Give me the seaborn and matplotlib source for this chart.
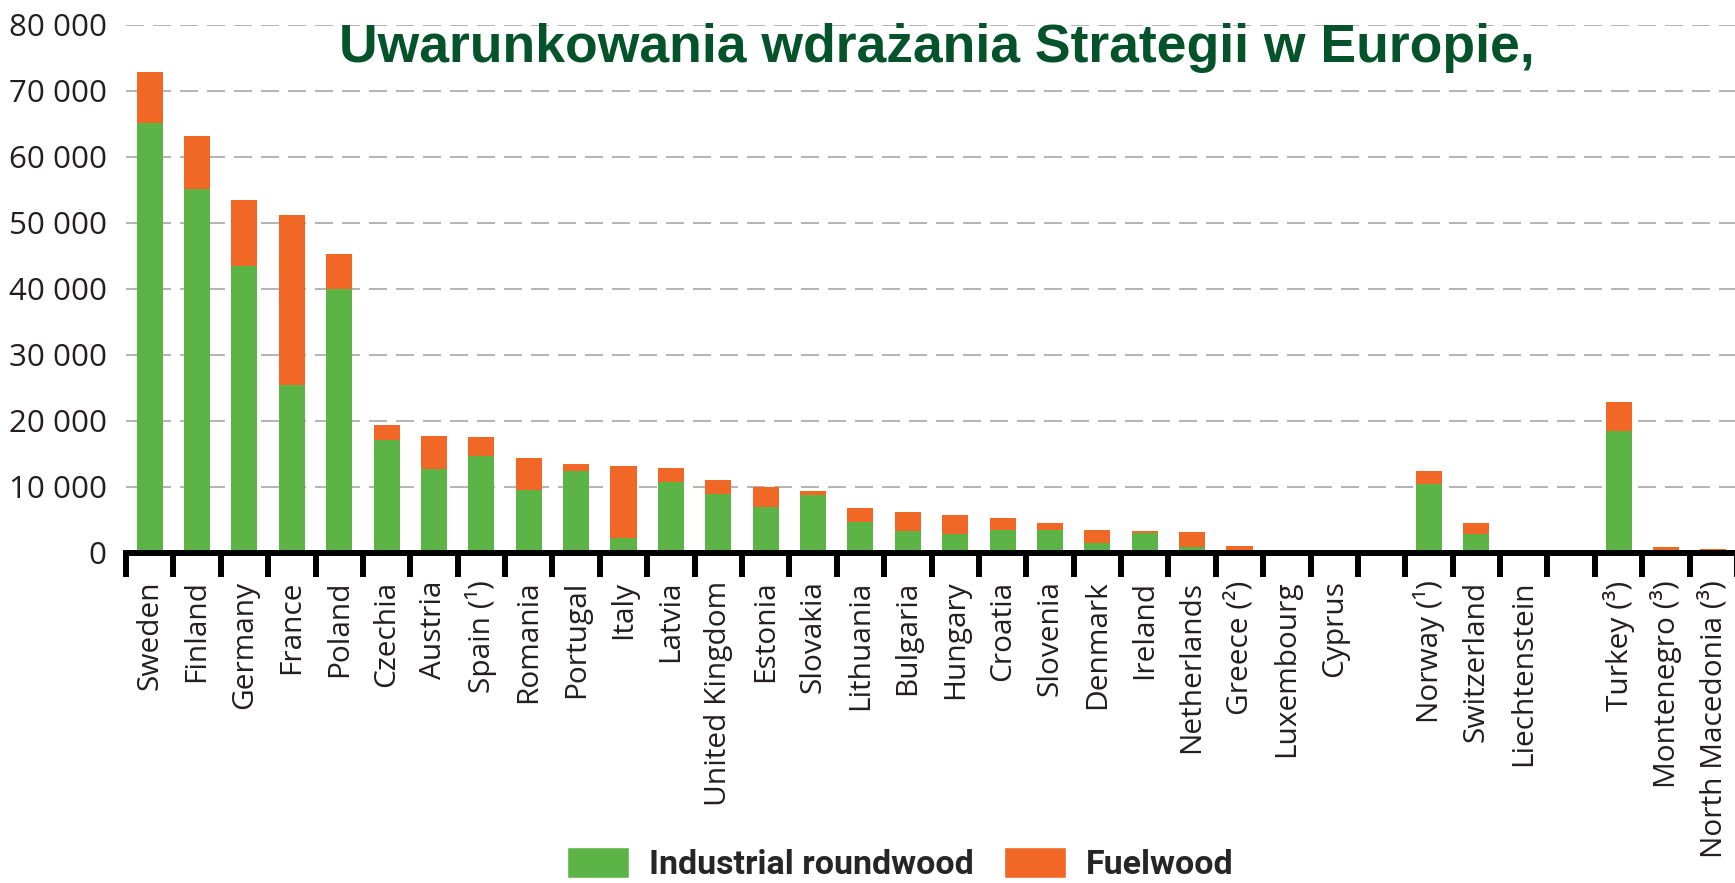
import numpy as np
import pandas as pd
import matplotlib
matplotlib.use("Agg")
import matplotlib.pyplot as plt
from matplotlib.patches import Patch
import seaborn as sns

# dane (tys. m3), puste pozycje = odstępy między grupami
countries = ["Sweden", "Finland", "Germany", "France", "Poland", "Czechia", "Austria",
             "Spain (¹)", "Romania", "Portugal", "Italy", "Latvia", "United Kingdom",
             "Estonia", "Slovakia", "Lithuania", "Bulgaria", "Hungary", "Croatia",
             "Slovenia", "Denmark", "Ireland", "Netherlands", "Greece (²)", "Luxembourg",
             "Cyprus", " ", "Norway (¹)", "Switzerland", "Liechtenstein", "  ",
             "Turkey (³)", "Montenegro (³)", "North Macedonia (³)"]
industrial = [65200, 55200, 43500, 25400, 40000, 17000, 12650, 14600, 9500, 12300,
              2200, 10700, 8900, 6900, 8700, 4600, 3200, 2800, 3400, 3400,
              1400, 3000, 800, 150, 0, 0, 0, 10400, 2800, 0, 0,
              18500, 0, 0]
fuelwood = [7700, 8000, 10000, 25800, 5300, 2400, 5000, 3000, 4900, 1200,
            10900, 2200, 2100, 3050, 600, 2150, 3000, 2900, 1900, 1100,
            2000, 200, 2300, 850, 0, 0, 0, 1900, 1700, 0, 0,
            4300, 900, 600]
yticks = [0, 10000, 20000, 30000, 40000, 50000, 60000, 70000, 80000]

green = "#5cb446"
orange = "#f06726"
txt = "#231f20"

df = pd.DataFrame({"country": countries, "industrial": industrial, "fuelwood": fuelwood})
df["total"] = df["industrial"] + df["fuelwood"]

sns.set_style("white")
plt.rcParams["font.family"] = ["Open Sans", "DejaVu Sans"]

fig = plt.figure(figsize=(17.35, 8.83), dpi=100)
ax = fig.add_axes([126 / 1735, 1 - 552.6 / 883, (1737 - 126) / 1735, (552.6 - 25) / 883])

# słupki skumulowane: najpierw suma (fuelwood na górze), potem industrial
sns.barplot(data=df, x="country", y="total", order=countries, color=orange,
            saturation=1, width=0.55, linewidth=0, errorbar=None, ax=ax)
sns.barplot(data=df, x="country", y="industrial", order=countries, color=green,
            saturation=1, width=0.55, linewidth=0, errorbar=None, ax=ax)

n = len(countries)
ax.set_xlim(-0.5, n - 0.5)
ax.set_ylim(0, 80000)
ax.set_xlabel("")
ax.set_ylabel("")

ax.set_xticks(range(n))
ax.set_xticklabels(countries, rotation=90, fontsize=21.5, color=txt)
ax.set_xticks(np.arange(-0.5, n, 1), minor=True)
ax.tick_params(axis="x", which="both", bottom=True)
ax.tick_params(axis="x", which="major", length=0, pad=20)
ax.tick_params(axis="x", which="minor", length=17, width=4.3, color="black", direction="out")

ax.set_yticks(yticks)
ax.set_yticklabels([f"{v:,}".replace(",", " ") for v in yticks], fontsize=22.5, color=txt)
ax.tick_params(axis="y", length=0, pad=14)

for s in ["left", "top", "right"]:
    ax.spines[s].set_visible(False)
ax.spines["bottom"].set_linewidth(4.3)
ax.spines["bottom"].set_color("black")
ax.spines["bottom"].set_zorder(5)

ax.set_axisbelow(True)
ax.yaxis.grid(True, linestyle=(0, (9, 4.5)), linewidth=1.44, color="#b5b5b5")
ax.xaxis.grid(False)

fig.text(0.540, 1 - 62 / 883, "Uwarunkowania wdrażania Strategii w Europie,",
         ha="center", va="baseline", fontsize=38.5, fontweight="bold",
         color="#04532a", family=["Liberation Sans", "DejaVu Sans"])

handles = [Patch(facecolor=green), Patch(facecolor=orange)]
fig.legend(handles, ["Industrial roundwood", "Fuelwood"], loc="center",
           bbox_to_anchor=(0.519, 1 - 864 / 883), ncol=2, frameon=False,
           prop={"family": "Roboto", "weight": "bold", "size": 24.5},
           handlelength=1.8, handleheight=1.0, handletextpad=0.6, columnspacing=0.9)

fig.savefig("out.png", dpi=100)
